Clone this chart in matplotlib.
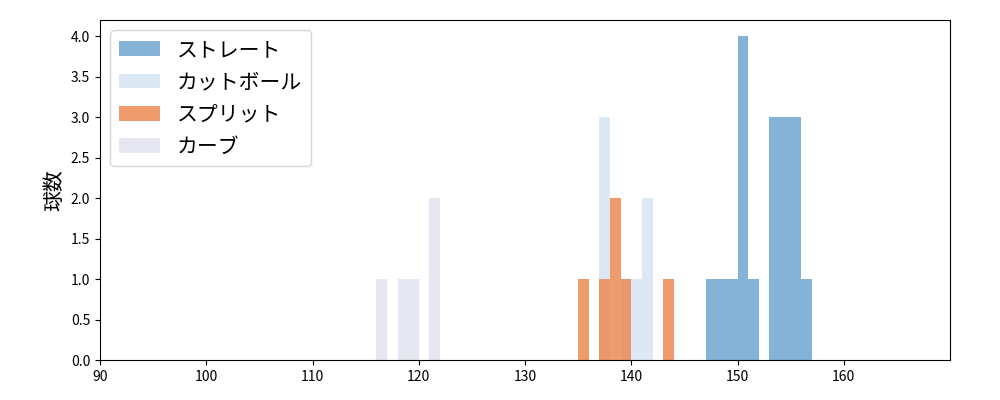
import matplotlib
matplotlib.use("Agg")
import matplotlib.pyplot as plt
import numpy as np

plt.rcParams['font.family'] = ['Noto Sans CJK JP', 'DejaVu Sans']

# pitch speeds (km/h), one entry per pitch
straight = [147, 148, 149, 150, 150, 150, 150, 151, 153, 153, 153, 154, 154, 154, 155, 155, 155, 156]
cutter = [137, 137, 137, 139, 140, 141, 141]
split = [135, 137, 138, 138, 139, 143]
curve = [116, 118, 119, 121, 121]

labels = ['ストレート', 'カットボール', 'スプリット', 'カーブ']
colors = ['#85b3d7', '#dce8f4', '#ec8a55', '#e6e6f0']
bins = np.arange(90, 171, 1) + 0.0

fig, ax = plt.subplots(figsize=(10, 4), dpi=100)
fig.subplots_adjust(left=0.1, right=0.95, bottom=0.1, top=0.95)
for data, lab, col in zip([straight, cutter, split, curve], labels, colors):
    alpha = 0.85 if lab == 'スプリット' else 1.0
    ax.hist(data, bins=bins, color=col, label=lab, alpha=alpha)

ax.set_xlim(90, 170)
ax.set_ylim(0, 4.2)
ax.set_xticks(range(90, 170, 10))
ax.set_yticks(np.arange(0, 4.01, 0.5))
ax.set_ylabel('球数', fontsize=15)
ax.legend(loc='upper left', fontsize=15)
plt.savefig('out.png')
